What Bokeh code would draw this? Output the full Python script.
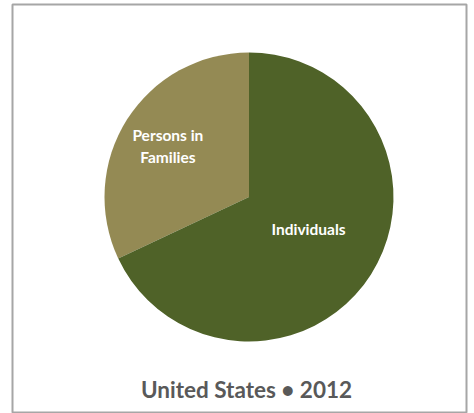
import numpy as np
from bokeh.plotting import figure
from bokeh.models import ColumnDataSource, Range1d
from bokeh.core.properties import value
from bokeh.embed import file_html
from bokeh.resources import INLINE

# ---- data ----
categories = ["Persons in Families", "Individuals"]
label_lines = [["Persons in", "Families"], ["Individuals"]]
shares = [32, 68]
colors = ["#948A54", "#4F6228"]
title_text = "United States \u2022 2012"

# ---- layout (data units = screen pixels, y measured upward from 413) ----
W, H = 474, 413
cx, cy, R = 248.5, 216.5, 144.5
label_frac = [0.665, 0.468]
label_shift_deg = [0.0, 4.1]

p = figure(width=W, height=H, output_backend="svg", toolbar_location=None,
           x_range=Range1d(12, 466), y_range=Range1d(1, 409),
           min_border=0, min_border_left=12, min_border_right=8,
           min_border_top=4, min_border_bottom=1)
p.axis.visible = False
p.grid.visible = False
p.background_fill_color = "white"
p.border_fill_color = "white"
p.outline_line_color = "#A6A6A6"
p.outline_line_width = 2

vals = np.array(shares, dtype=float)
fr = vals / vals.sum()
ang = np.cumsum(np.concatenate([[0], fr])) * 2 * np.pi + np.pi / 2
src = ColumnDataSource(dict(cat=categories, start=ang[:-1], end=ang[1:], color=colors))
p.wedge(x=cx, y=cy, radius=R, start_angle="start", end_angle="end",
        fill_color="color", line_color=None, source=src)

# labels
tx, ty, tt = [], [], []
line_gap = 22
for i, lines in enumerate(label_lines):
    mid = (ang[i] + ang[i + 1]) / 2 + np.deg2rad(label_shift_deg[i])
    lx = cx + R * label_frac[i] * np.cos(mid)
    ly = cy + R * label_frac[i] * np.sin(mid)
    n = len(lines)
    for j, ln in enumerate(lines):
        tx.append(lx)
        ty.append(ly + (n - 1) * line_gap / 2 - j * line_gap)
        tt.append(ln)
p.text(x=tx, y=ty, text=tt, text_color="white", text_font=value("Lato"),
       text_font_style="bold", text_font_size="15.5px", text_align="center",
       text_baseline="middle")

p.text(x=[246], y=[24], text=[title_text], text_color="#595959",
       text_font=value("Lato"), text_font_style="bold", text_font_size="22.5px",
       text_align="center", text_baseline="alphabetic")

open("out.html", "w").write(file_html(p, INLINE))
